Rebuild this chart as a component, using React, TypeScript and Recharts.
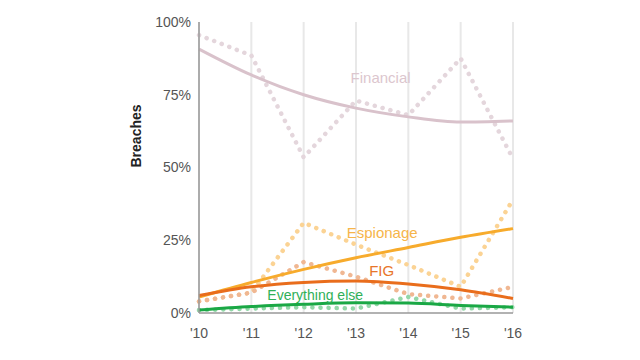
import React from 'react';
import {
  LineChart, Line, XAxis, YAxis, CartesianGrid, ReferenceDot,
} from 'recharts';

const years = [2010, 2011, 2012, 2013, 2014, 2015, 2016];
const yTicks = [0, 25, 50, 75, 100];

const financialActual = [95.5, 88.5, 53.5, 73, 68, 87.5, 53];
const financialTrend = [90.7, 81.8, 75, 70.4, 67.4, 65.6, 66];
const espionageActual = [4, 7, 31, 23.5, 16.5, 9, 39];
const espionageTrend = [5.5, 10.5, 15, 19, 22.5, 26, 29];
const figActual = [4, 7, 17.5, 12.5, 6.5, 5, 9];
const figTrend = [6, 9, 10.5, 11, 10, 8, 5];
const otherActual = [1, 1.5, 2, 1.5, 5.5, 1.5, 2];
const otherTrend = [1, 2.2, 3, 3.5, 3.4, 2.6, 2];

const data = years.map((year, i) => ({
  year,
  financialActual: financialActual[i],
  financialTrend: financialTrend[i],
  espionageActual: espionageActual[i],
  espionageTrend: espionageTrend[i],
  figActual: figActual[i],
  figTrend: figTrend[i],
  otherActual: otherActual[i],
  otherTrend: otherTrend[i],
}));

const font = '"Liberation Sans", Arial, sans-serif';

const dotted = { strokeWidth: 4.5, strokeDasharray: '0.1 8', strokeLinecap: 'round' as const, dot: false, isAnimationActive: false };
const solid = { strokeWidth: 3, dot: false, isAnimationActive: false };

const App: React.FC = () => {
  return (
    <div style={{ width: 632, height: 352, fontFamily: font }}>
      <LineChart width={632} height={352} data={data} margin={{ top: 14, right: 127, left: 121, bottom: 17 }}>
        <CartesianGrid horizontal={false} stroke="#e8e8e8" strokeWidth={2} />
        <XAxis
          dataKey="year"
          type="number"
          domain={[2010, 2016]}
          ticks={years}
          tickFormatter={(v) => `'${String(v).slice(2)}`}
          tick={{ fontSize: 14, fill: '#555', fontFamily: font }}
          tickLine={false}
          tickMargin={9}
          axisLine={{ stroke: '#999', strokeWidth: 1.5 }}
          height={30}
        />
        <YAxis
          domain={[0, 100]}
          ticks={yTicks}
          tickFormatter={(v) => `${v}%`}
          tick={{ fontSize: 14, fill: '#555', fontFamily: font }}
          tickLine={false}
          axisLine={{ stroke: '#999', strokeWidth: 1.5 }}
          width={70}
          label={{ value: 'Breaches', angle: -90, position: 'insideLeft', offset: 7, fill: '#222', fontSize: 14, fontWeight: 'bold', fontFamily: font }}
        />
        <Line dataKey="financialActual" stroke="#e4d6dc" {...dotted} />
        <Line dataKey="espionageActual" stroke="#fbd394" {...dotted} />
        <Line dataKey="figActual" stroke="#f0b792" {...dotted} />
        <Line dataKey="otherActual" stroke="#93d7a8" {...dotted} />
        <Line type="monotone" dataKey="financialTrend" stroke="#d9c2cb" {...solid} />
        <Line type="monotone" dataKey="espionageTrend" stroke="#f7ab2c" {...solid} />
        <Line type="monotone" dataKey="figTrend" stroke="#e96d1c" {...solid} />
        <Line type="monotone" dataKey="otherTrend" stroke="#1aa845" {...solid} />
        <ReferenceDot x={2013.47} y={80.8} r={0} label={{ value: 'Financial', fill: '#dcc6ce', fontSize: 15, fontFamily: font }} />
        <ReferenceDot x={2013.5} y={27.5} r={0} label={{ value: 'Espionage', fill: '#f6b54a', fontSize: 15, fontFamily: font }} />
        <ReferenceDot x={2013.49} y={14.4} r={0} label={{ value: 'FIG', fill: '#e8752a', fontSize: 15, fontFamily: font }} />
        <ReferenceDot x={2012.22} y={6.2} r={0} label={{ value: 'Everything else', fill: '#2fb058', fontSize: 14, fontFamily: font }} />
      </LineChart>
    </div>
  );
};

export default App;
